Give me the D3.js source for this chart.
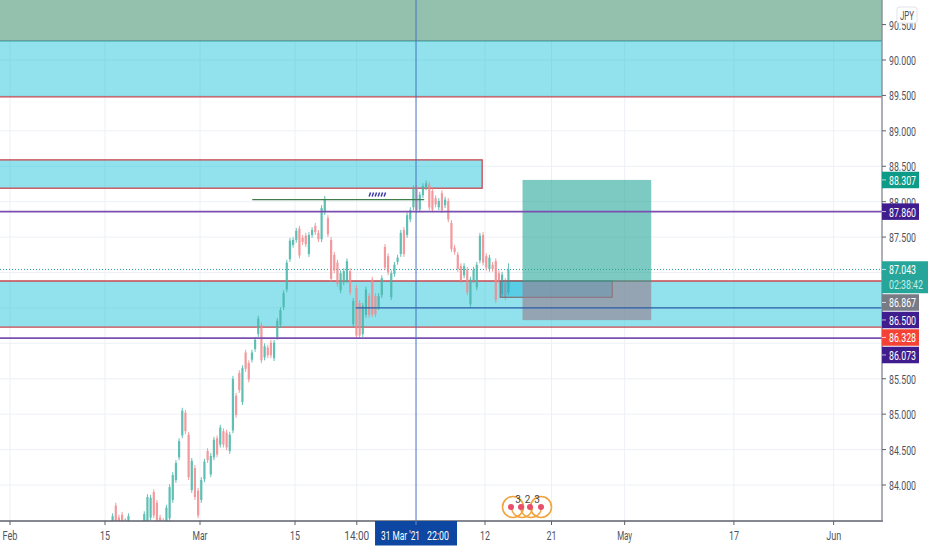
<!DOCTYPE html>
<html>
<head>
<meta charset="utf-8">
<style>
  body { margin: 0; background: #fff; }
  text { font-family: Roboto, sans-serif; }
</style>
<script src="https://cdn.jsdelivr.net/npm/d3@7"></script>
</head>
<body>
<svg id="chart" width="932" height="550"></svg>
<script>
// candles, three per trading day, first one at firstBarDay
const firstBarDay = 10.8
const barsPerDay = 3
const opens = [83.40,83.71,83.54,83.58,83.37,83.39,83.42,83.38,83.32,83.29,
  83.43,83.40,83.54,83.90,83.75,83.54,83.49,83.40,83.53,83.79,
  84.07,84.39,84.70,85.02,84.71,83.93,84.24,83.92,83.79,84.08,
  84.48,84.15,84.39,84.66,84.57,84.76,84.74,84.48,84.77,85.26,
  85.58,85.17,85.87,85.72,85.77,85.92,86.13,86.26,85.80,85.94,
  86.01,85.79,86.09,86.26,86.51,86.76,87.19,87.39,87.46,87.62,
  87.49,87.52,87.26,87.53,87.66,87.56,87.47,87.85,87.77,87.46,
  87.25,87.14,86.75,86.86,86.89,87.02,86.27,86.78,86.57,86.13,
  86.40,86.67,86.90,86.67,86.51,86.68,87.36,87.23,86.65,86.98,
  87.15,87.26,87.60,87.53,87.75,87.92,88.19,87.89,88.09,88.20,
  88.24,88.15,88.05,87.92,88.12,87.95,88.01,87.70,87.35,87.25,
  87.09,86.96,87.04,86.55,86.89,86.79,87.17,87.53,87.23,87.05,
  87.11,87.16,86.99,86.69,86.88,86.72]
const highs = [83.60,83.75,83.58,83.62,83.53,83.60,83.46,83.42,83.45,83.43,
  83.63,83.87,83.86,83.94,83.79,83.58,83.53,83.72,84.01,84.18,
  84.35,84.66,85.09,85.06,84.75,84.38,84.28,83.96,84.11,84.37,
  84.52,84.45,84.68,84.70,84.85,84.80,84.78,84.75,85.54,85.30,
  85.62,85.69,85.91,85.76,85.91,86.09,86.39,86.30,86.00,85.98,
  86.05,86.05,86.36,86.51,86.75,87.18,87.49,87.50,87.63,87.66,
  87.53,87.56,87.57,87.64,87.70,87.60,87.95,88.08,87.81,87.50,
  87.29,87.18,87.03,87.06,87.20,87.06,86.64,86.82,86.61,86.57,
  86.80,86.71,86.94,86.71,86.71,86.96,87.40,87.27,87.03,87.15,
  87.25,87.60,87.64,87.85,87.92,88.23,88.23,88.14,88.26,88.30,
  88.28,88.19,88.09,88.05,88.16,88.07,88.05,87.74,87.39,87.29,
  87.13,87.13,87.08,86.94,87.08,87.15,87.56,87.57,87.27,87.25,
  87.15,87.20,87.03,87.01,86.92,87.13]
const lows = [83.36,83.43,83.36,83.39,83.33,83.35,83.25,83.22,83.28,83.25,
  83.39,83.36,83.50,83.53,83.39,83.29,83.29,83.36,83.49,83.75,
  84.03,84.35,84.66,84.72,84.07,83.89,83.79,83.53,83.75,84.04,
  84.31,84.11,84.35,84.39,84.53,84.53,84.49,84.44,84.73,84.95,
  85.30,85.13,85.60,85.45,85.73,85.88,86.09,85.72,85.76,85.79,
  85.79,85.75,86.05,86.22,86.47,86.72,87.15,87.35,87.42,87.20,
  87.39,87.36,87.22,87.49,87.53,87.43,87.43,87.81,87.50,86.87,
  86.99,86.80,86.71,86.82,86.85,86.68,86.23,86.07,86.07,86.09,
  86.36,86.36,86.37,86.37,86.47,86.64,87.03,86.96,86.61,86.94,
  87.11,87.22,87.22,87.49,87.71,87.88,87.84,87.85,88.05,88.16,
  87.88,87.85,87.92,87.88,87.84,87.91,87.71,87.29,87.25,87.01,
  86.85,86.92,86.68,86.51,86.85,86.75,87.13,87.10,87.03,87.01,
  87.01,86.57,86.85,86.65,86.61,86.68]
const closes = [83.56,83.47,83.40,83.43,83.49,83.56,83.29,83.26,83.41,83.39,
  83.59,83.83,83.82,83.57,83.43,83.33,83.33,83.68,83.97,84.14,
  84.31,84.62,85.05,84.76,84.11,84.34,83.83,83.57,84.07,84.33,
  84.35,84.41,84.64,84.43,84.81,84.57,84.53,84.71,85.50,84.99,
  85.34,85.65,85.64,85.49,85.87,86.05,86.35,85.76,85.96,85.83,
  85.83,86.01,86.32,86.47,86.71,87.14,87.45,87.46,87.59,87.24,
  87.43,87.40,87.53,87.60,87.57,87.47,87.91,88.04,87.54,86.91,
  87.03,86.84,86.99,87.02,87.16,86.72,86.60,86.11,86.11,86.53,
  86.76,86.40,86.41,86.41,86.67,86.92,87.07,87.00,86.99,87.11,
  87.21,87.56,87.26,87.81,87.88,88.19,87.88,88.10,88.22,88.26,
  87.92,87.89,87.96,88.01,87.88,88.03,87.75,87.33,87.29,87.05,
  86.89,87.09,86.72,86.90,87.04,87.11,87.52,87.14,87.07,87.21,
  87.05,86.61,86.89,86.97,86.65,87.043]

// axes
const priceTicks = [90.5,90,89.5,89,88.5,88,87.5,87,86.5,86,85.5,85,84.5,84]
const coveredTicks = [87,86.5,86]
const dayTicks = [0,10,20,30,36.5,50,57,64.7,76.2,86.7]
const dayTickLabels = ["Feb","15","Mar","15","14:00","12","21","May","17","Jun"]
const crosshairDay = 42.74
const crosshairLabels = ["31 Mar '21","22:00"]

// drawings, [top price, bottom price]
const wideBands = [[90.27,89.48],[86.88,86.23]]
const topZone = [91.2,90.27]
const shortBox = {top:88.59,bottom:88.19,endDay:49.7}
const fullLines = [87.86,86.073]
const blueLine = {price:86.5,startDay:36.4}
const greenLine = {price:88.03,startDay:25.5,endDay:43.6}
const dashes = {price:88.1,startDay:37.8,count:6}
const lastPrice = 87.043
const countdown = "02:38:42"
const position = {target:88.307,entry:86.867,stop:86.328,startDay:53.95,endDay:67.5}
const smallBox = {top:86.88,bottom:86.65,startDay:51.6,endDay:63.4}
const priceLabels = [
  {value:88.307,color:"#0d9a86"},
  {value:87.86,color:"#3f1d8f"},
  {value:87.043,color:"#26a69a",sub:countdown},
  {value:86.867,color:"#787b86"},
  {value:86.5,color:"#3f1d8f"},
  {value:86.328,color:"#f44336"},
  {value:86.073,color:"#3f1d8f"}
]
const logoDigits = ["3","2","3"]

const W = 882, H = 521
const svg = d3.select("svg#chart")
const x = d3.scaleLinear().domain([0,10]).range([10,105])
const y = d3.scaleLinear().domain([90,84]).range([60,485])

const fmt = d3.format(".3f")
const textColor = "#50535e"

// squeezed text, the picture has narrow digits
function label(g, str, px, py, w, color, anchor){
  return g.append("text")
    .attr("x", px).attr("y", py)
    .attr("fill", color)
    .attr("font-size", 12.5)
    .attr("text-anchor", anchor || "start")
    .attr("dominant-baseline", "central")
    .attr("textLength", w)
    .attr("lengthAdjust", "spacingAndGlyphs")
    .text(str)
}

const defs = svg.append("defs")
defs.append("clipPath").attr("id", "plot")
  .append("rect").attr("width", W).attr("height", H)
// the reference is a soft jpeg, candles are not crisp there
defs.append("filter").attr("id", "soft")
  .append("feGaussianBlur").attr("stdDeviation", 0.45)

const plot = svg.append("g").attr("clip-path", "url(#plot)")

// grid
plot.selectAll("line.gridh").data(priceTicks).join("line")
  .attr("class", "gridh")
  .attr("x1", 0).attr("x2", W)
  .attr("y1", d => y(d)).attr("y2", d => y(d))
  .attr("stroke", "#edf0f5")
plot.selectAll("line.gridv").data(dayTicks).join("line")
  .attr("class", "gridv")
  .attr("x1", d => x(d)).attr("x2", d => x(d))
  .attr("y1", 0).attr("y2", H)
  .attr("stroke", "#edf0f5")

// zones
const cyan = "#00bcd4", red = "#c9474f"
plot.append("rect")
  .attr("x", 0).attr("width", W)
  .attr("y", y(topZone[0])).attr("height", y(topZone[1]) - y(topZone[0]))
  .attr("fill", "#93c1ae")
plot.append("line")
  .attr("x1", 0).attr("x2", W)
  .attr("y1", y(topZone[1])).attr("y2", y(topZone[1]))
  .attr("stroke", "#5e8f86").attr("stroke-width", 1.2)
plot.selectAll("rect.band").data(wideBands).join("rect")
  .attr("class", "band")
  .attr("x", -2).attr("width", W + 4)
  .attr("y", d => y(d[0])).attr("height", d => y(d[1]) - y(d[0]))
  .attr("fill", cyan).attr("fill-opacity", 0.43)
plot.selectAll("line.bandb").data(wideBands.flatMap((d, i) => i ? d : [d[1]])).join("line")
  .attr("class", "bandb")
  .attr("x1", 0).attr("x2", W)
  .attr("y1", d => y(d)).attr("y2", d => y(d))
  .attr("stroke", red).attr("stroke-width", 1.3)
plot.append("rect")
  .attr("x", -2).attr("width", x(shortBox.endDay) + 2)
  .attr("y", y(shortBox.top)).attr("height", y(shortBox.bottom) - y(shortBox.top))
  .attr("fill", cyan).attr("fill-opacity", 0.43)
  .attr("stroke", red).attr("stroke-width", 1.3)

// current price
plot.append("line")
  .attr("x1", 0).attr("x2", W)
  .attr("y1", y(lastPrice)).attr("y2", y(lastPrice))
  .attr("stroke", "#26a69a").attr("stroke-dasharray", "1 2")

// candles
const bars = opens.map((o, i) => ({
  day: firstBarDay + i / barsPerDay, o: o, h: highs[i], l: lows[i], c: closes[i]
}))
const upColor = "#45b5a8", downColor = "#f0898c"
const candles = plot.append("g").attr("opacity", 0.85).attr("filter", "url(#soft)")
candles.selectAll("line.wick").data(bars).join("line")
  .attr("class", "wick")
  .attr("x1", d => x(d.day)).attr("x2", d => x(d.day))
  .attr("y1", d => y(d.h)).attr("y2", d => y(d.l))
  .attr("stroke", d => d.c >= d.o ? upColor : downColor)
candles.selectAll("rect.body").data(bars).join("rect")
  .attr("class", "body")
  .attr("x", d => x(d.day) - 1.1).attr("width", 2.2)
  .attr("y", d => y(Math.max(d.o, d.c)))
  .attr("height", d => Math.abs(y(d.o) - y(d.c)))
  .attr("fill", d => d.c >= d.o ? upColor : downColor)

// small box under the position tool
plot.append("rect")
  .attr("x", x(smallBox.startDay)).attr("width", x(smallBox.endDay) - x(smallBox.startDay))
  .attr("y", y(smallBox.top)).attr("height", y(smallBox.bottom) - y(smallBox.top))
  .attr("fill", "#00aadc").attr("fill-opacity", 0.38)
  .attr("stroke", "#7f6f72").attr("stroke-width", 1.2)

// long position
plot.append("rect")
  .attr("x", x(position.startDay)).attr("width", x(position.endDay) - x(position.startDay))
  .attr("y", y(position.target)).attr("height", y(position.entry) - y(position.target))
  .attr("fill", "#26a69a").attr("fill-opacity", 0.6)
plot.append("rect")
  .attr("x", x(position.startDay)).attr("width", x(position.endDay) - x(position.startDay))
  .attr("y", y(position.entry)).attr("height", y(position.stop) - y(position.entry))
  .attr("fill", "#967c8c").attr("fill-opacity", 0.6)

// lines
plot.selectAll("line.purple").data(fullLines).join("line")
  .attr("class", "purple")
  .attr("x1", 0).attr("x2", W)
  .attr("y1", d => y(d)).attr("y2", d => y(d))
  .attr("stroke", "#7a4fb0").attr("stroke-width", 1.6)
plot.append("line")
  .attr("x1", x(blueLine.startDay)).attr("x2", W)
  .attr("y1", y(blueLine.price)).attr("y2", y(blueLine.price))
  .attr("stroke", "#2a5da8").attr("stroke-width", 1.2)
plot.append("line")
  .attr("x1", x(greenLine.startDay)).attr("x2", x(greenLine.endDay))
  .attr("y1", y(greenLine.price)).attr("y2", y(greenLine.price))
  .attr("stroke", "#3f7d4a").attr("stroke-width", 1.2)
plot.selectAll("line.dash").data(d3.range(dashes.count)).join("line")
  .attr("class", "dash")
  .attr("x1", i => x(dashes.startDay) + i * 3).attr("x2", i => x(dashes.startDay) + i * 3 + 1.5)
  .attr("y1", y(dashes.price) + 2).attr("y2", y(dashes.price) - 2)
  .attr("stroke", "#3a3aa8").attr("stroke-width", 1.5)

// crosshair
plot.append("line")
  .attr("x1", x(crosshairDay)).attr("x2", x(crosshairDay))
  .attr("y1", 0).attr("y2", H)
  .attr("stroke", "#4472c4").attr("stroke-width", 1)

// logo, full rings at both ends and only the lower loops between them
const logo = svg.append("g").attr("filter", "url(#soft)")
const logoArc = d3.arc().innerRadius(9.8).outerRadius(11.2)
logo.selectAll("circle.ring").data([513,541]).join("circle")
  .attr("class", "ring")
  .attr("cx", d => d).attr("cy", 507).attr("r", 10.5)
  .attr("fill", "none").attr("stroke", "#f2a33c").attr("stroke-width", 1.6)
logo.selectAll("path.loop").data([522,531]).join("path")
  .attr("class", "loop")
  .attr("transform", d => `translate(${d},507)`)
  .attr("d", logoArc({startAngle: Math.PI * 0.5, endAngle: Math.PI * 1.5}))
  .attr("fill", "#f2a33c")
logo.selectAll("circle.dot").data([511,521,530,541]).join("circle")
  .attr("class", "dot")
  .attr("cx", d => d).attr("cy", 507).attr("r", 3)
  .attr("fill", "#e8506a")
svg.append("g").selectAll("text").data(logoDigits).join("text")
  .attr("x", (d, i) => 518 + i * 9.5).attr("y", 499)
  .attr("text-anchor", "middle").attr("dominant-baseline", "central")
  .attr("font-size", 10).attr("fill", "#444")
  .text(d => d)

// axes
svg.append("line").attr("x1", 0).attr("x2", W + 1).attr("y1", H).attr("y2", H)
  .attr("stroke", "#5d606b").attr("stroke-width", 1.4)
svg.append("line").attr("x1", W).attr("x2", W).attr("y1", 0).attr("y2", H)
  .attr("stroke", "#8b8e98").attr("stroke-width", 1.4)

const yAxis = svg.append("g")
yAxis.selectAll("line").data(priceTicks).join("line")
  .attr("x1", W).attr("x2", W + 4)
  .attr("y1", d => y(d)).attr("y2", d => y(d))
  .attr("stroke", "#5d606b")
priceTicks.filter(d => !coveredTicks.includes(d))
  .forEach(d => label(yAxis, fmt(d), 889, y(d) + 0.5, 27, textColor))

const xAxis = svg.append("g")
xAxis.selectAll("line").data(dayTicks).join("line")
  .attr("x1", d => x(d)).attr("x2", d => x(d))
  .attr("y1", H).attr("y2", H + 4)
  .attr("stroke", "#5d606b")
dayTicks.forEach((d, i) => {
  const str = dayTickLabels[i]
  label(xAxis, str, x(d), 535.5, str.length * 5, textColor, "middle")
})

// crosshair date label
const chx = x(crosshairDay)
svg.append("rect")
  .attr("x", chx - 41).attr("y", H).attr("width", 82).attr("height", 24.5)
  .attr("fill", "#0d47a1")
label(svg, crosshairLabels[0], chx - 35, 535.5, 39, "#fff")
label(svg, crosshairLabels[1], chx + 11, 535.5, 22, "#fff")
svg.append("line")
  .attr("x1", chx).attr("x2", chx).attr("y1", H).attr("y2", H + 4)
  .attr("stroke", "#6f8fd0")

// price labels, pushed down so they do not overlap
let bottom = -Infinity
priceLabels.forEach(d => {
  const cy = Math.max(y(d.value), bottom + 9.2)
  const top = cy - 8.2
  const h = d.sub ? 32 : 16.5
  const w = d.sub ? 46 : 37
  svg.append("rect")
    .attr("x", W).attr("y", top).attr("width", w).attr("height", h)
    .attr("fill", d.color)
  svg.append("line")
    .attr("x1", W).attr("x2", W + 4).attr("y1", cy).attr("y2", cy)
    .attr("stroke", "#fff").attr("stroke-opacity", 0.7)
  label(svg, fmt(d.value), 889, cy + 0.5, 27, "#fff")
  if (d.sub) label(svg, d.sub, 889, cy + 15.5, 34, "#c4eee9")
  bottom = top + h
})

// currency box
svg.append("rect")
  .attr("x", 897).attr("y", 7).attr("width", 20).attr("height", 16).attr("rx", 2)
  .attr("fill", "#fff").attr("stroke", "#e0e3eb")
label(svg, "JPY", 907, 15.5, 14, textColor, "middle")
</script>
</body>
</html>
